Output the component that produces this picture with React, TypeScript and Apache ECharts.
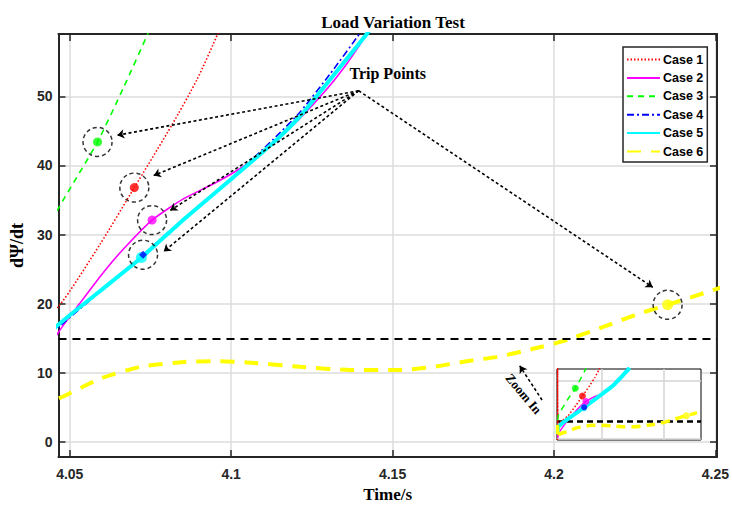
import React, { useEffect, useRef } from "react";
import * as echarts from "echarts";

type Pt = [number, number];

// dΨ/dt traces for each load case: [time (s), value]
const case1: Pt[] = [
  [4.0303, -1], [4.0305, 62], [4.0312, 13], [4.0465, 19.6], [4.0595, 28.7],
  [4.07, 36.8], [4.0817, 45.9], [4.0894, 52.4], [4.096, 59.2], [4.099, 63],
];
const case2: Pt[] = [
  [4.0305, 1], [4.034, 6.4], [4.0465, 15.9], [4.053, 20.0], [4.0595, 24.0],
  [4.066, 27.6], [4.0755, 32.1], [4.0853, 35.2], [4.0956, 37.6], [4.1059, 40.5],
  [4.1131, 43.2], [4.1213, 46.8], [4.1296, 51.0], [4.136, 54.8], [4.142, 58.9], [4.145, 61],
];
const case3: Pt[] = [
  [4.0305, 16], [4.032, 20.7], [4.0465, 33.8], [4.0586, 43.4], [4.0666, 51.2],
  [4.0746, 59.5], [4.077, 62.5],
];
const case4: Pt[] = [
  [4.0305, 5], [4.032, 10.2], [4.0465, 16.6], [4.0595, 21.8], [4.0727, 27.1],
  [4.0853, 32.3], [4.1007, 38.4], [4.1131, 43.8], [4.1213, 47.7], [4.1306, 53.2],
  [4.14, 59.2], [4.143, 61.5],
];
const case5: Pt[] = [
  [4.0305, 5], [4.032, 10.5], [4.0465, 17.0], [4.0595, 21.9], [4.0722, 26.7],
  [4.0853, 32.2], [4.1007, 38.3], [4.1131, 43.3], [4.1213, 47.1], [4.1306, 52.4],
  [4.142, 59.0], [4.145, 61],
];
const case6: Pt[] = [
  [4.0303, 12], [4.031, 1], [4.034, 4.2], [4.0465, 6.3], [4.0595, 9.2],
  [4.0719, 10.9], [4.0853, 11.6], [4.0956, 11.7], [4.1059, 11.5], [4.1213, 10.9],
  [4.1368, 10.45], [4.1523, 10.45], [4.1626, 10.9], [4.1729, 11.7], [4.1832, 12.4],
  [4.1935, 13.5], [4.2028, 14.6], [4.2161, 16.8], [4.2265, 18.6], [4.2352, 19.86],
  [4.2481, 21.8], [4.252, 22.4],
];

const caseNames = ["Case 1", "Case 2", "Case 3", "Case 4", "Case 5", "Case 6"];
const caseColors = ["#ff0000", "#ff00ff", "#00ff00", "#0000ff", "#00ffff", "#ffff00"];

// trip point of each case: [time, value]
const tripPoints: Pt[] = [
  [4.07, 36.8],
  [4.0755, 32.1],
  [4.0586, 43.4],
  [4.0727, 27.1],
  [4.0722, 26.7],
  [4.2352, 19.86],
];

const threshold = 15;
const arrowApex: Pt = [4.1395, 50.8];
const arrowHeads: Pt[] = [
  [4.0647, 44.37],
  [4.076, 38.54],
  [4.0811, 33.5],
  [4.0791, 27.56],
  [4.2306, 22.4],
];
const tripLabelAt: Pt = [4.1485, 53.25];
const zoomLabelAt: Pt = [4.1906, 7.0];
const zoomArrow: Pt[] = [[4.1963, 6.1], [4.1894, 11.04]];

const xTicks = [4.05, 4.1, 4.15, 4.2, 4.25];
const yTicks = [0, 10, 20, 30, 40, 50];

const X_MIN = 4.0465;
const X_MAX = 4.2505;
const Y_MIN = -2.15;
const Y_MAX = 59;

const INSET_X_MIN = 4.0295;
const INSET_X_MAX = 4.2585;
const INSET_Y_MIN = -1;
const INSET_Y_MAX = 60;
const insetGridX = [4.1, 4.2];
const insetGridY = [0, 50];

const AXIS_COLOR = "#262626";
const SANS = "'Liberation Sans', Arial, sans-serif";
const SERIF = "'Liberation Serif', 'Times New Roman', serif";

const allCases = [case1, case2, case3, case4, case5, case6];

const lineStyles: any[] = [
  { width: 1.6, type: [1.5, 2] },
  { width: 1.6, type: "solid" },
  { width: 1.6, type: [6, 5] },
  { width: 1.6, type: [7, 3, 2, 3] },
  { width: 4, type: "solid" },
  { width: 4, type: [14, 10] },
];

function buildOption(): echarts.EChartsOption {
  const fmt = (v: number) => String(+Number(v).toFixed(2));

  const frameAxis = (base: any) => ({
    type: "value",
    axisLine: { show: true, onZero: false, lineStyle: { color: AXIS_COLOR, width: 2 } },
    ...base,
  });

  const xAxes: any[] = [
    frameAxis({
      gridIndex: 0,
      position: "bottom",
      min: X_MIN,
      max: X_MAX,
      axisTick: { show: true, inside: true, length: 7, customValues: xTicks, lineStyle: { color: AXIS_COLOR, width: 1.5 } },
      axisLabel: {
        customValues: xTicks,
        formatter: fmt,
        fontFamily: SANS,
        fontWeight: "bold",
        fontSize: 14,
        color: AXIS_COLOR,
        margin: 10,
      },
      splitLine: { show: true, lineStyle: { color: "#dcdcdc", width: 1.5 } },
      name: "Time/s",
      nameLocation: "middle",
      nameGap: 28,
      nameTextStyle: { fontFamily: SERIF, fontWeight: "bold", fontSize: 17, color: "#000" },
    }),
    frameAxis({
      gridIndex: 0,
      position: "top",
      min: X_MIN,
      max: X_MAX,
      axisTick: { show: true, inside: true, length: 7, customValues: xTicks, lineStyle: { color: AXIS_COLOR, width: 1.5 } },
      axisLabel: { show: false },
      splitLine: { show: false },
    }),
    {
      type: "value",
      gridIndex: 1,
      min: INSET_X_MIN,
      max: INSET_X_MAX,
      z: 3,
      axisLine: { show: false },
      axisTick: { show: false },
      axisLabel: { show: false },
      splitLine: { show: false },
    },
  ];

  const yAxes: any[] = [
    frameAxis({
      gridIndex: 0,
      position: "left",
      min: Y_MIN,
      max: Y_MAX,
      axisTick: { show: true, inside: true, length: 7, customValues: yTicks, lineStyle: { color: AXIS_COLOR, width: 1.5 } },
      axisLabel: {
        customValues: yTicks,
        fontFamily: SANS,
        fontWeight: "bold",
        fontSize: 14,
        color: AXIS_COLOR,
        margin: 6,
      },
      splitLine: { show: true, lineStyle: { color: "#dcdcdc", width: 1.5 } },
      name: "dΨ/dt",
      nameLocation: "middle",
      nameGap: 21,
      nameTextStyle: { fontFamily: SERIF, fontWeight: "bold", fontSize: 18, color: "#000" },
    }),
    frameAxis({
      gridIndex: 0,
      position: "right",
      min: Y_MIN,
      max: Y_MAX,
      axisTick: { show: true, inside: true, length: 7, customValues: yTicks, lineStyle: { color: AXIS_COLOR, width: 1.5 } },
      axisLabel: { show: false },
      splitLine: { show: false },
    }),
    {
      type: "value",
      gridIndex: 1,
      min: INSET_Y_MIN,
      max: INSET_Y_MAX,
      z: 3,
      axisLine: { show: false },
      axisTick: { show: false },
      axisLabel: { show: false },
      splitLine: { show: false },
    },
  ];

  const series: any[] = [];

  // dashed trip threshold across the main plot
  series.push({
    type: "line",
    xAxisIndex: 0,
    yAxisIndex: 0,
    data: [],
    silent: true,
    z: 3,
    markLine: {
      silent: true,
      symbol: "none",
      label: { show: false },
      lineStyle: { color: "#000", width: 2, type: [8, 6] },
      data: [{ yAxis: threshold }],
    },
  });

  // main traces
  allCases.forEach((d, i) => {
    series.push({
      name: caseNames[i],
      type: "line",
      xAxisIndex: 0,
      yAxisIndex: 0,
      data: d,
      showSymbol: false,
      symbol: "none",
      smooth: 0.2,
      clip: true,
      z: 4 + i * 0.01,
      lineStyle: { color: caseColors[i], ...lineStyles[i] },
      itemStyle: { color: caseColors[i] },
    });
  });

  // dashed rings round the trip points
  series.push({
    type: "scatter",
    xAxisIndex: 0,
    yAxisIndex: 0,
    symbol: "circle",
    symbolSize: 29,
    silent: true,
    z: 6,
    itemStyle: { color: "rgba(0,0,0,0)", borderColor: "#000", borderWidth: 1.5, borderType: [4, 3] },
    data: [tripPoints[0], tripPoints[1], tripPoints[2], tripPoints[3], tripPoints[5]],
  });

  // trip point markers
  const dotSizes = [9, 9, 9, 8, 11, 11];
  const dotShapes = ["circle", "circle", "circle", "diamond", "circle", "circle"];
  const dotOrder = [0, 1, 2, 4, 3, 5];
  series.push({
    type: "scatter",
    xAxisIndex: 0,
    yAxisIndex: 0,
    silent: true,
    z: 7,
    data: dotOrder.map((i) => ({
      value: tripPoints[i],
      symbol: dotShapes[i],
      symbolSize: dotSizes[i],
      itemStyle: { color: caseColors[i] },
    })),
  });

  // arrows pointing at the trip points, plus the annotations
  series.push({
    type: "line",
    xAxisIndex: 0,
    yAxisIndex: 0,
    data: [],
    silent: true,
    z: 8,
    markLine: {
      silent: true,
      symbol: ["none", "arrow"],
      symbolSize: 7,
      label: { show: false },
      lineStyle: { color: "#000", width: 1.6, type: [3, 2.5] },
      data: [
        ...arrowHeads.map((h) => [{ coord: arrowApex }, { coord: h }]),
        [{ coord: zoomArrow[0] }, { coord: zoomArrow[1] }],
      ] as any,
    },
    markPoint: {
      silent: true,
      symbol: "circle",
      symbolSize: 1,
      itemStyle: { color: "rgba(0,0,0,0)" },
      data: [
        {
          coord: tripLabelAt,
          label: {
            show: true,
            position: "inside",
            formatter: "Trip Points",
            fontFamily: SERIF,
            fontWeight: "bold",
            fontSize: 16,
            color: "#000",
          },
        },
        {
          coord: zoomLabelAt,
          label: {
            show: true,
            position: "inside",
            rotate: -50,
            formatter: "Zoom In",
            fontFamily: SERIF,
            fontWeight: "bold",
            fontSize: 13,
            color: "#000",
          },
        },
      ],
    },
  });

  // inset: grid lines and threshold
  series.push({
    type: "line",
    xAxisIndex: 2,
    yAxisIndex: 2,
    data: [],
    silent: true,
    z: 10,
    markLine: {
      silent: true,
      symbol: "none",
      label: { show: false },
      lineStyle: { color: "#d4d4d4", width: 1.5, type: "solid" },
      data: [...insetGridX.map((x) => ({ xAxis: x })), ...insetGridY.map((y) => ({ yAxis: y }))],
    },
  });
  series.push({
    type: "line",
    xAxisIndex: 2,
    yAxisIndex: 2,
    data: [],
    silent: true,
    z: 11,
    markLine: {
      silent: true,
      symbol: "none",
      label: { show: false },
      lineStyle: { color: "#000", width: 2.5, type: [6, 4] },
      data: [{ yAxis: threshold }],
    },
  });

  // inset traces
  allCases.forEach((d, i) => {
    series.push({
      name: caseNames[i],
      type: "line",
      xAxisIndex: 2,
      yAxisIndex: 2,
      data: d,
      showSymbol: false,
      symbol: "none",
      smooth: 0.2,
      clip: true,
      z: 12 + i * 0.01,
      lineStyle: {
        color: caseColors[i],
        width: i === 4 ? 4 : i === 5 ? 3.5 : 1.5,
        type: i === 5 ? [9, 6] : lineStyles[i].type,
      },
      itemStyle: { color: caseColors[i] },
    });
  });

  series.push({
    type: "scatter",
    xAxisIndex: 2,
    yAxisIndex: 2,
    silent: true,
    z: 13,
    data: dotOrder.map((i) => ({
      value: tripPoints[i],
      symbol: "circle",
      symbolSize: i === 3 ? 6 : 7,
      itemStyle: { color: caseColors[i] },
    })),
  });

  return {
    animation: false,
    backgroundColor: "#ffffff",
    title: {
      text: "Load Variation Test",
      left: 388,
      textAlign: "center",
      top: 9,
      textStyle: { fontFamily: SERIF, fontWeight: "bold", fontSize: 17, color: "#000" },
    },
    legend: {
      orient: "vertical",
      left: 623,
      top: 47,
      padding: [6, 4, 4, 3],
      itemWidth: 33,
      itemHeight: 14,
      itemGap: 5.4,
      backgroundColor: "#ffffff",
      borderColor: AXIS_COLOR,
      borderWidth: 1.5,
      data: caseNames,
      // line samples only, no marker in the middle
      itemStyle: { color: "rgba(0,0,0,0)", borderWidth: 0, opacity: 0 },
      textStyle: { fontFamily: SANS, fontWeight: "bold", fontSize: 12.5, color: "#000", padding: [0, 0, 0, -2] },
    },
    grid: [
      { left: 58, top: 34, right: 14, bottom: 47 },
      {
        left: 557,
        top: 369,
        width: 144,
        height: 71,
        show: true,
        z: 3,
        backgroundColor: "#ffffff",
        borderColor: "#000",
        borderWidth: 1,
      },
    ],
    xAxis: xAxes,
    yAxis: yAxes,
    series,
  } as any;
}

export default function App() {
  const ref = useRef<HTMLDivElement>(null);

  useEffect(() => {
    if (!ref.current) return;
    const chart = echarts.init(ref.current, undefined, { renderer: "svg" });
    chart.setOption(buildOption());
    return () => chart.dispose();
  }, []);

  return (
    <div
      ref={ref}
      style={{ position: "fixed", left: 0, top: 0, width: 732, height: 508, background: "#fff" }}
    />
  );
}
